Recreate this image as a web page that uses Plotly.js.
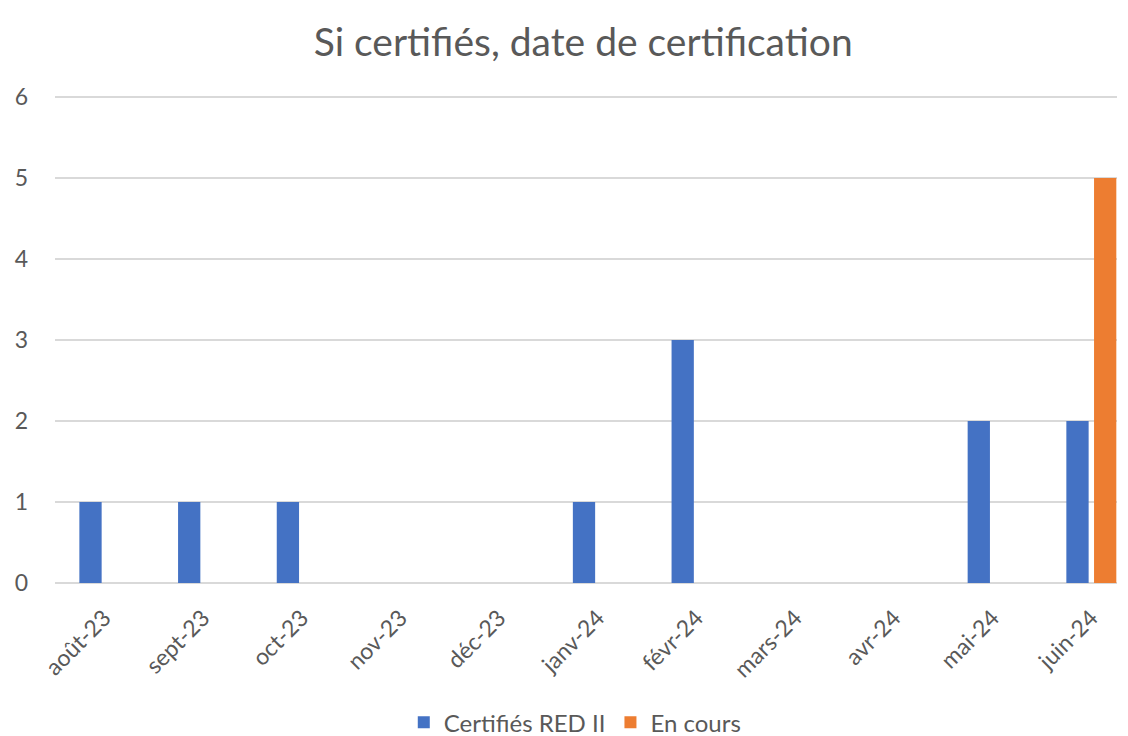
<!DOCTYPE html>
<html>
<head>
<meta charset="utf-8">
<script src="https://cdn.plot.ly/plotly-3.0.1.min.js"></script>
<style>html,body{margin:0;padding:0;background:#fff}#chart{width:1128px;height:736px}</style>
</head>
<body>
<div id="chart"></div>
<script>
const categories = ["août-23","sept-23","oct-23","nov-23","déc-23","janv-24","févr-24","mars-24","avr-24","mai-24","juin-24"];
const certifies = [1,1,1,0,0,1,3,0,0,2,2];
const enCours = [0,0,0,0,0,0,0,0,0,0,5];
const yTicks = [0,1,2,3,4,5,6];

const FONT = "Lato, 'Open Sans', sans-serif";
const traces = [
  {type:"bar", name:"Certifiés RED II", x:categories, y:certifies, marker:{color:"#4472C4"}},
  {type:"bar", name:"En cours", x:categories, y:enCours, marker:{color:"#ED7D31"}}
];
const layout = {
  width:1128, height:736,
  margin:{l:55, r:11, t:95, b:153},
  paper_bgcolor:"#fff", plot_bgcolor:"#fff",
  font:{family:FONT, color:"#595959", size:23},
  title:{text:"Si certifiés, date de certification", font:{size:39, color:"#595959", family:FONT}, x:0.517, xanchor:"center", y:0.943, yanchor:"middle"},
  barmode:"group", bargap:0.439, bargroupgap:0.195,
  xaxis:{type:"category", range:[-0.5,10.26], tickangle:-45, showgrid:false, showline:false, zeroline:false, ticks:"", ticklabelstandoff:16, tickfont:{size:23, color:"#595959"}, automargin:false},
  yaxis:{range:[0,6.025], tickvals:yTicks, showgrid:true, gridcolor:"#d9d9d9", gridwidth:1.5, zeroline:true, zerolinecolor:"#d9d9d9", zerolinewidth:1.5, showline:false, ticks:"", ticklabelstandoff:26, tickfont:{size:23, color:"#595959"}, automargin:false},
  legend:{orientation:"h", x:0.51, xanchor:"center", xref:"container", y:0.018, yref:"container", yanchor:"middle", font:{size:24, color:"#595959"}, itemwidth:20, tracegroupgap:20},
  showlegend:true
};
Plotly.newPlot("chart", traces, layout, {displayModeBar:false, staticPlot:true});
</script>
</body>
</html>
